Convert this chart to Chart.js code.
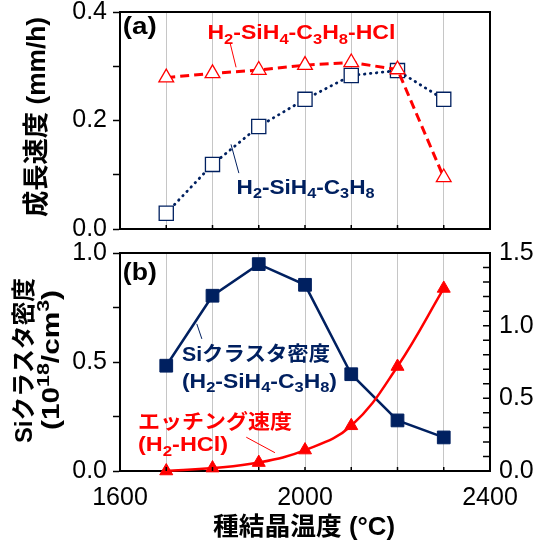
<!DOCTYPE html>
<html>
<head>
<meta charset="utf-8">
<script src="https://cdn.jsdelivr.net/npm/chart.js@4"></script>
<style>
  html, body { margin: 0; padding: 0; background: #fff; }
  #wrap { position: relative; width: 535px; height: 545px; overflow: hidden; }
  canvas { position: absolute; left: 0; }
</style>
</head>
<body>
<div id="wrap">
  <canvas id="chartA" width="535" height="242" style="top:0"></canvas>
  <canvas id="chartB" width="535" height="303" style="top:242px"></canvas>
</div>
<script>
// données
const temps = [1700, 1800, 1900, 2000, 2100, 2200, 2300];           // 種結晶温度 (°C)
const growthWithHCl = [0.279, 0.287, 0.293, 0.302, 0.307, 0.294, 0.095]; // H2-SiH4-C3H8-HCl (mm/h)
const growthNoHCl = [0.029, 0.119, 0.189, 0.239, 0.283, 0.292, 0.239];   // H2-SiH4-C3H8 (mm/h)
const clusterDensity = [0.483, 0.804, 0.949, 0.854, 0.444, 0.232, 0.154]; // 10^18/cm3
const etchRate = [0.0, 0.02, 0.058, 0.144, 0.311, 0.719, 1.256];         // H2-HCl
const xLabelsShown = [1600, 2000, 2400];

const RED = '#FF0000';
const NAVY = '#002060';
const GRID = '#c6c6c6';
const FAM = "'Liberation Sans', 'Noto Sans CJK JP', Arial, sans-serif";

Chart.defaults.font.family = FAM;
Chart.defaults.color = '#000';

function pts(ys) {
    return temps.map((t, i) => ({ x: t, y: ys[i] }));
}

// texte avec indices / exposants : H_2, ^{18}
function parseRich(str) {
    const segs = [];
    let buf = '', i = 0;
    while (i < str.length) {
        const c = str[i];
        if (c === '_' || c === '^') {
            if (buf) { segs.push({ t: buf, k: 0 }); buf = ''; }
            let tok;
            if (str[i + 1] === '{') {
                const j = str.indexOf('}', i);
                tok = str.slice(i + 2, j);
                i = j + 1;
            } else {
                tok = str[i + 1];
                i += 2;
            }
            segs.push({ t: tok, k: c === '_' ? 1 : -1 });
        } else {
            buf += c;
            i++;
        }
    }
    if (buf) segs.push({ t: buf, k: 0 });
    return segs;
}

function drawRich(ctx, str, x, y, o) {
    ctx.save();
    ctx.translate(x, y);
    if (o.rot) ctx.rotate(o.rot);
    const segs = parseRich(str);
    let total = 0;
    segs.forEach(s => {
        s.fs = s.k ? o.size * 0.72 : o.size;
        ctx.font = 'bold ' + s.fs + 'px ' + FAM;
        s.w = ctx.measureText(s.t).width;
        total += s.w;
    });
    if (o.width) ctx.scale(o.width / total, 1);
    let cx = o.align === 'center' ? -total / 2 : 0;
    ctx.fillStyle = o.color || '#000';
    ctx.textBaseline = 'middle';
    segs.forEach(s => {
        ctx.font = 'bold ' + s.fs + 'px ' + FAM;
        const dy = s.k === 1 ? o.size * 0.3 : (s.k === -1 ? -o.size * 0.32 : 0);
        ctx.fillText(s.t, cx, dy);
        cx += s.w;
    });
    ctx.restore();
}

// cadre, petites graduations intérieures, annotations
const decorPlugin = {
    id: 'decor',
    afterDraw(chart, args, opts) {
        const ctx = chart.ctx;
        const a = chart.chartArea;
        const xs = chart.scales.x;
        ctx.save();
        ctx.strokeStyle = '#000';
        ctx.lineWidth = 2;
        ctx.beginPath();
        ctx.moveTo(a.left - 1, a.top);
        ctx.lineTo(a.right + 1, a.top);
        if (!chart.scales.y1) {
            ctx.moveTo(a.right, a.top - 1);
            ctx.lineTo(a.right, a.bottom + 1);
        }
        ctx.stroke();

        ctx.lineWidth = 1.5;
        ctx.beginPath();
        xs.ticks.forEach(t => {
            if (t.value <= xs.min || t.value >= xs.max) return;
            const px = xs.getPixelForValue(t.value);
            ctx.moveTo(px, a.bottom);
            ctx.lineTo(px, a.bottom - 4);
        });
        if (chart.scales.y1) {
            const s = chart.scales.y1;
            s.ticks.forEach(t => {
                const py = s.getPixelForValue(t.value);
                ctx.moveTo(a.right, py);
                ctx.lineTo(a.right - 7, py);
            });
        }
        ctx.stroke();

        (opts.leaders || []).forEach(l => {
            const ys = chart.scales[l.axis || 'y'];
            ctx.strokeStyle = l.color;
            ctx.lineWidth = 1;
            ctx.beginPath();
            ctx.moveTo(xs.getPixelForValue(l.x1), ys.getPixelForValue(l.y1));
            ctx.lineTo(xs.getPixelForValue(l.x2), ys.getPixelForValue(l.y2));
            ctx.stroke();
        });
        ctx.restore();

        (opts.notes || []).forEach(n => {
            const ys = chart.scales[n.axis || 'y'];
            drawRich(ctx, n.text, xs.getPixelForValue(n.x), ys.getPixelForValue(n.y), n);
        });
        (opts.titles || []).forEach(n => {
            drawRich(ctx, n.text, n.px, n.py, n);
        });
    }
};

const gridColor = c => (c.tick && (c.tick.value <= 1600 || c.tick.value >= 2400)) ? 'rgba(0,0,0,0)' : GRID;

// lineHeight très petit : les étiquettes ne poussent plus la zone du graphique
const yTickFont = { size: 25, lineHeight: 0.1 };

// (a) 成長速度
new Chart(document.getElementById('chartA'), {
    type: 'line',
    data: {
        datasets: [
            {
                label: 'H2-SiH4-C3H8-HCl',
                data: pts(growthWithHCl),
                borderColor: RED,
                borderWidth: 3,
                borderDash: [9, 5],
                pointStyle: 'triangle',
                pointRadius: 8.5,
                pointBackgroundColor: '#fff',
                pointBorderColor: RED,
                pointBorderWidth: 1.3,
                clip: false
            },
            {
                label: 'H2-SiH4-C3H8',
                data: pts(growthNoHCl),
                borderColor: NAVY,
                borderWidth: 2.8,
                borderDash: [0.5, 5.5],
                borderCapStyle: 'round',
                pointStyle: 'rect',
                pointRadius: 10,
                pointBackgroundColor: '#fff',
                pointBorderColor: NAVY,
                pointBorderWidth: 1.3,
                clip: false
            }
        ]
    },
    options: {
        responsive: false,
        animation: false,
        layout: { autoPadding: false, padding: { top: 12, right: 45, left: 0, bottom: 0 } },
        plugins: {
            legend: { display: false },
            tooltip: { enabled: false },
            decor: {
                notes: [
                    { text: '(a)', x: 1606, y: 0.371, size: 24, width: 34 },
                    { text: 'H_2-SiH_4-C_3H_8-HCl', x: 1789, y: 0.360, size: 20, width: 188, color: RED },
                    { text: 'H_2-SiH_4-C_3H_8', x: 1852, y: 0.075, size: 20, width: 138, color: NAVY }
                ],
                leaders: [
                    { x1: 1838, y1: 0.343, x2: 1851, y2: 0.298, color: RED },
                    { x1: 1857, y1: 0.103, x2: 1840, y2: 0.156, color: NAVY }
                ],
                titles: [
                    { text: '成長速度 (mm/h)', px: 37.5, py: 117, rot: -Math.PI / 2, align: 'center', size: 26, width: 200 }
                ]
            }
        },
        scales: {
            x: {
                type: 'linear',
                min: 1600,
                max: 2400,
                ticks: { stepSize: 100, display: false, autoSkip: false },
                grid: { color: gridColor, lineWidth: 1, drawTicks: false },
                border: { color: '#000', width: 2 },
                afterFit: s => { s.height = 13; }
            },
            y: {
                min: 0,
                max: 0.4,
                ticks: {
                    stepSize: 0.1,
                    autoSkip: false,
                    padding: 6,
                    font: yTickFont,
                    callback: v => (Math.round(v * 10) % 2 === 0 ? v.toFixed(1) : '')
                },
                grid: { drawOnChartArea: false, tickColor: '#000', tickLength: 7, tickWidth: 1.5 },
                border: { color: '#000', width: 2 },
                afterFit: s => { s.width = 120; }
            }
        }
    },
    plugins: [decorPlugin]
});

// (b) Siクラスタ密度 / エッチング速度
new Chart(document.getElementById('chartB'), {
    type: 'line',
    data: {
        datasets: [
            {
                label: 'エッチング速度 (H2-HCl)',
                data: pts(etchRate),
                yAxisID: 'y1',
                borderColor: RED,
                borderWidth: 2.5,
                tension: 0.4,
                pointStyle: 'triangle',
                pointRadius: 7.5,
                pointBackgroundColor: RED,
                pointBorderColor: RED,
                pointBorderWidth: 1,
                clip: false
            },
            {
                label: 'Siクラスタ密度 (H2-SiH4-C3H8)',
                data: pts(clusterDensity),
                yAxisID: 'y',
                borderColor: NAVY,
                borderWidth: 2.5,
                pointStyle: 'rect',
                pointRadius: 9,
                pointBackgroundColor: NAVY,
                pointBorderColor: NAVY,
                pointBorderWidth: 1,
                clip: false
            }
        ]
    },
    options: {
        responsive: false,
        animation: false,
        layout: { autoPadding: false, padding: { top: 11, right: 0, left: 0, bottom: 0 } },
        plugins: {
            legend: { display: false },
            tooltip: { enabled: false },
            decor: {
                notes: [
                    { text: '(b)', x: 1606, y: 0.907, size: 24, width: 34 },
                    { text: 'Siクラスタ密度', x: 1734, y: 0.529, size: 20, width: 148, color: NAVY },
                    { text: '(H_2-SiH_4-C_3H_8)', x: 1734, y: 0.408, size: 20, width: 155, color: NAVY },
                    { text: 'エッチング速度', x: 1639, y: 0.220, size: 20, width: 154, color: RED },
                    { text: '(H_2-HCl)', x: 1639, y: 0.115, size: 20, width: 90, color: RED }
                ],
                leaders: [
                    { x1: 1766, y1: 0.675, x2: 1777, y2: 0.606, color: NAVY },
                    { x1: 1873, y1: 0.155, x2: 1935, y2: 0.084, color: RED }
                ],
                titles: [
                    { text: 'Siクラスタ密度', px: 25, py: 118.5, rot: -Math.PI / 2, align: 'center', size: 24, width: 165 },
                    { text: '(10^{18}/cm^3)', px: 52, py: 118, rot: -Math.PI / 2, align: 'center', size: 24, width: 140 },
                    { text: '種結晶温度 (°C)', px: 304, py: 286, align: 'center', size: 25, width: 182 }
                ]
            }
        },
        scales: {
            x: {
                type: 'linear',
                min: 1600,
                max: 2400,
                ticks: {
                    stepSize: 100,
                    autoSkip: false,
                    maxRotation: 0,
                    minRotation: 0,
                    padding: 12,
                    font: { size: 25 },
                    callback: v => (xLabelsShown.includes(v) ? String(v) : '')
                },
                grid: { color: gridColor, lineWidth: 1, drawTicks: false },
                border: { color: '#000', width: 2 },
                afterFit: s => { s.height = 74; }
            },
            y: {
                position: 'left',
                min: 0,
                max: 1,
                ticks: {
                    stepSize: 0.25,
                    autoSkip: false,
                    padding: 6,
                    font: yTickFont,
                    callback: v => (Math.round(v * 4) % 2 === 0 ? v.toFixed(1) : '')
                },
                grid: { drawOnChartArea: false, tickColor: '#000', tickLength: 7, tickWidth: 1.5 },
                border: { color: '#000', width: 2 },
                afterFit: s => { s.width = 120; }
            },
            y1: {
                position: 'right',
                min: 0,
                max: 1.5,
                ticks: {
                    stepSize: 0.1,
                    autoSkip: false,
                    padding: 9,
                    font: yTickFont,
                    callback: v => (Math.round(v * 10) % 5 === 0 ? v.toFixed(1) : '')
                },
                grid: { display: false, drawTicks: false },
                border: { color: '#000', width: 2 },
                afterFit: s => { s.width = 45; }
            }
        }
    },
    plugins: [decorPlugin]
});
</script>
</body>
</html>
